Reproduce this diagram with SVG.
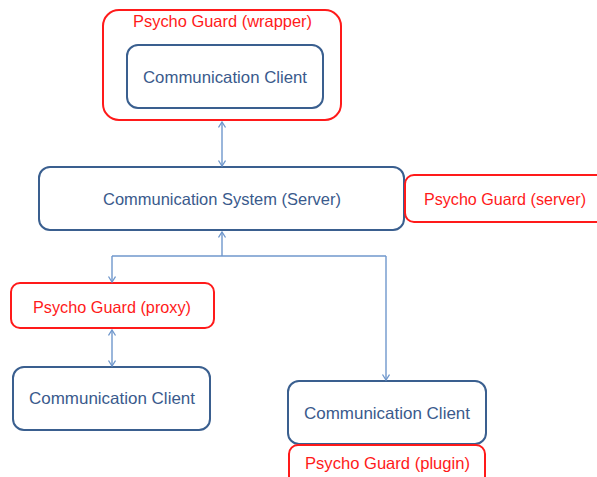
<svg xmlns="http://www.w3.org/2000/svg" width="597" height="477" viewBox="0 0 597 477">
<style>
.red{fill:#fff;stroke:#ff1a1a;stroke-width:2}
.blue{fill:#fff;stroke:#3a5f8f;stroke-width:2}
.tr{fill:#ff1a1a;font-family:"Liberation Sans",Arial,sans-serif;font-size:16.5px;text-anchor:middle}
.tb{fill:#3a5a8c;font-family:"Liberation Sans",Arial,sans-serif;font-size:16.5px;text-anchor:middle}
.c{fill:none;stroke:#6f97cc;stroke-width:1.4}
</style>
<defs>
<marker id="ah" markerWidth="8" markerHeight="10" refX="6" refY="4" orient="auto-start-reverse" markerUnits="userSpaceOnUse">
<path d="M0.5,0.5 L6,4 L0.5,7.5" fill="none" stroke="#6f97cc" stroke-width="1.3"/>
</marker>
</defs>
<rect width="597" height="477" fill="#fff"/>
<g id="wrapper">
<rect class="red" x="103" y="10" width="238" height="110" rx="16"/>
<text class="tr" x="222.5" y="27" textLength="179" lengthAdjust="spacingAndGlyphs">Psycho Guard (wrapper)</text>
</g>
<g id="client-top">
<rect class="blue" x="127" y="45" width="196" height="63" rx="11"/>
<text class="tb" x="225" y="83" textLength="164" lengthAdjust="spacingAndGlyphs">Communication Client</text>
</g>
<g id="server">
<rect class="blue" x="39" y="167" width="365" height="63" rx="11"/>
<text class="tb" x="222" y="205" textLength="238" lengthAdjust="spacingAndGlyphs">Communication System (Server)</text>
</g>
<g id="guard-server">
<rect class="red" x="405" y="175" width="200" height="47" rx="9"/>
<text class="tr" x="505" y="205" textLength="162" lengthAdjust="spacingAndGlyphs">Psycho Guard (server)</text>
</g>
<g id="guard-proxy">
<rect class="red" x="11" y="283" width="203" height="45" rx="9"/>
<text class="tr" x="112" y="313" textLength="158" lengthAdjust="spacingAndGlyphs">Psycho Guard (proxy)</text>
</g>
<g id="client-left">
<rect class="blue" x="13" y="367" width="197" height="63" rx="11"/>
<text class="tb" x="112" y="404" textLength="166" lengthAdjust="spacingAndGlyphs">Communication Client</text>
</g>
<g id="client-right">
<rect class="blue" x="288" y="381" width="198" height="63" rx="11"/>
<text class="tb" x="387" y="419" textLength="166" lengthAdjust="spacingAndGlyphs">Communication Client</text>
</g>
<g id="guard-plugin">
<rect class="red" x="289" y="445" width="196" height="45" rx="9"/>
<text class="tr" x="387.5" y="469" textLength="165" lengthAdjust="spacingAndGlyphs">Psycho Guard (plugin)</text>
</g>
<g id="connectors">
<path class="c" d="M222,122 L222,166" marker-start="url(#ah)" marker-end="url(#ah)"/>
<path class="c" d="M222,256 L222,232" marker-end="url(#ah)"/>
<path class="c" d="M112,256 L386,256"/>
<path class="c" d="M112,256 L112,282" marker-end="url(#ah)"/>
<path class="c" d="M386,256 L386,380" marker-end="url(#ah)"/>
<path class="c" d="M112,330 L112,366" marker-start="url(#ah)" marker-end="url(#ah)"/>
</g>
</svg>
